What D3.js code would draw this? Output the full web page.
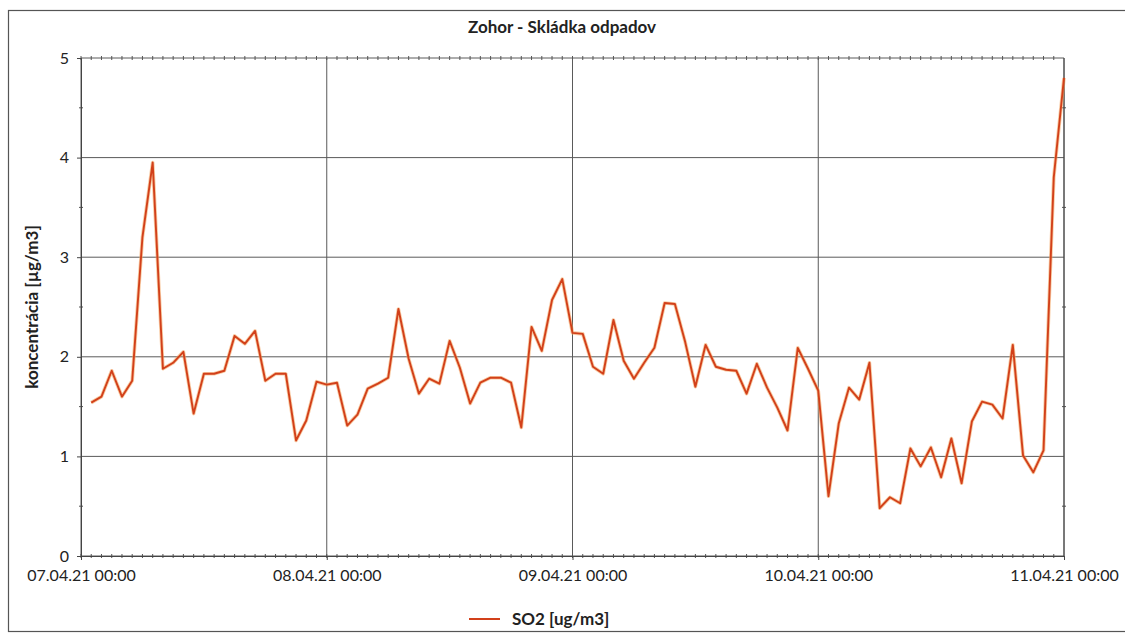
<!DOCTYPE html>
<html lang="sk">
<head>
<meta charset="utf-8">
<title>Zohor - Skládka odpadov</title>
<script src="https://d3js.org/d3.v7.min.js"></script>
<style>
  body { margin: 0; background: #fff; }
  text { font-family: Lato, "Open Sans", sans-serif; fill: #222; }
</style>
</head>
<body>
<div id="chart"></div>
<script>
// hodinové hodnoty SO2, od 07.04.21 01:00 do 11.04.21 00:00
var startTime = new Date(2021, 3, 7, 1, 0);
var so2Values = [
  1.54, 1.60, 1.86, 1.60, 1.76, 3.20, 3.95, 1.88, 1.94, 2.05, 1.43, 1.83,
  1.83, 1.86, 2.21, 2.13, 2.26, 1.76, 1.83, 1.83, 1.16, 1.36, 1.75, 1.72,
  1.74, 1.31, 1.42, 1.68, 1.73, 1.79, 2.48, 1.98, 1.63, 1.78, 1.73, 2.16,
  1.89, 1.53, 1.74, 1.79, 1.79, 1.74, 1.29, 2.30, 2.06, 2.57, 2.78, 2.24,
  2.23, 1.90, 1.83, 2.37, 1.96, 1.78, 1.94, 2.09, 2.54, 2.53, 2.15, 1.70,
  2.12, 1.90, 1.87, 1.86, 1.63, 1.93, 1.69, 1.49, 1.26, 2.09, 1.88, 1.66,
  0.60, 1.33, 1.69, 1.57, 1.94, 0.48, 0.59, 0.53, 1.08, 0.90, 1.09, 0.79,
  1.18, 0.73, 1.35, 1.55, 1.52, 1.38, 2.12, 1.01, 0.84, 1.06, 3.80, 4.80
];
var dayTicks = [
  new Date(2021, 3, 7), new Date(2021, 3, 8), new Date(2021, 3, 9),
  new Date(2021, 3, 10), new Date(2021, 3, 11)
];
var yTicks = [0, 1, 2, 3, 4, 5];
var yMinorTicks = [0.5, 1.5, 2.5, 3.5, 4.5];
var chartTitle = "Zohor - Skládka odpadov";
var yTitle = "koncentrácia [µg/m3]";
var seriesName = "SO2 [ug/m3]";

var data = so2Values.map(function(v, i) {
  return { t: d3.timeHour.offset(startTime, i), v: v };
});

var W = 1125, H = 636;
var margin = {top: 58, right: 61, bottom: 80, left: 81},
    width = W - margin.left - margin.right,
    height = H - margin.top - margin.bottom;

var svg = d3.select("#chart").append("svg")
    .attr("width", W).attr("height", H);

// rámik grafu
svg.append("rect")
    .attr("x", 8.5).attr("y", 10.5)
    .attr("width", 1130).attr("height", 621)
    .attr("fill", "none").attr("stroke", "#555").attr("stroke-width", 1.2);

var g = svg.append("g")
    .attr("transform", "translate(" + margin.left + "," + margin.top + ")");

var x = d3.scaleTime()
    .domain([dayTicks[0], dayTicks[4]])
    .range([0, width]);
var y = d3.scaleLinear()
    .domain([0, 5])
    .range([height, 0]);

// mriežka
g.selectAll(".hgrid").data(yTicks).enter().append("line")
    .attr("x1", 0).attr("x2", width)
    .attr("y1", function(d) { return y(d); }).attr("y2", function(d) { return y(d); })
    .attr("stroke", "#5a5a5a").attr("stroke-width", 1);
g.selectAll(".vgrid").data(dayTicks).enter().append("line")
    .attr("x1", function(d) { return x(d); }).attr("x2", function(d) { return x(d); })
    .attr("y1", 0).attr("y2", height)
    .attr("stroke", "#5a5a5a").attr("stroke-width", 1);

// vedľajšie značky na okrajoch
var hours = d3.timeHour.range(dayTicks[0], dayTicks[4]);
[0, height].forEach(function(yy) {
  g.selectAll(null).data(hours).enter().append("line")
      .attr("x1", function(d) { return x(d); }).attr("x2", function(d) { return x(d); })
      .attr("y1", yy - 2).attr("y2", yy + 2)
      .attr("stroke", "#555").attr("stroke-width", 1);
});
[0, width].forEach(function(xx) {
  g.selectAll(null).data(yMinorTicks).enter().append("line")
      .attr("x1", xx - 2).attr("x2", xx + 2)
      .attr("y1", function(d) { return y(d); }).attr("y2", function(d) { return y(d); })
      .attr("stroke", "#555").attr("stroke-width", 1);
});

// osi
var xAxis = g.append("g")
    .attr("transform", "translate(0," + height + ")")
    .call(d3.axisBottom(x).tickValues(dayTicks).tickSize(4)
      .tickFormat(d3.timeFormat("%d.%m.%y %H:%M")));
xAxis.select(".domain").attr("stroke", "#444");
xAxis.selectAll(".tick line").attr("stroke", "#444");
xAxis.selectAll("text")
    .attr("y", 14).attr("dy", "0.71em")
    .style("font-size", "16px").style("font-family", "Lato, sans-serif").attr("fill", "#222");

var yAxis = g.append("g")
    .call(d3.axisLeft(y).tickValues(yTicks).tickSize(4).tickFormat(d3.format("d")));
yAxis.select(".domain").attr("stroke", "#444");
yAxis.selectAll(".tick line").attr("stroke", "#444");
yAxis.selectAll("text")
    .attr("x", -12)
    .style("font-size", "16px").style("font-family", "Lato, sans-serif").attr("fill", "#222");

g.append("line")
    .attr("x1", width).attr("x2", width).attr("y1", 0).attr("y2", height)
    .attr("stroke", "#444");

// krivka
var line = d3.line()
    .x(function(d) { return x(d.t); })
    .y(function(d) { return y(d.v); });
g.append("path")
    .datum(data)
    .attr("d", line)
    .attr("fill", "none")
    .attr("stroke", "#f3a15a").attr("stroke-width", 3.6).attr("stroke-opacity", 0.55)
    .attr("stroke-linejoin", "round");
g.append("path")
    .datum(data)
    .attr("d", line)
    .attr("fill", "none")
    .attr("stroke", "#d2401a").attr("stroke-width", 1.9)
    .attr("stroke-linejoin", "round");

// nadpisy
svg.append("text")
    .attr("x", 562).attr("y", 33)
    .attr("text-anchor", "middle")
    .style("font-size", "17px").style("font-weight", "bold")
    .text(chartTitle);

svg.append("text")
    .attr("transform", "translate(38," + (margin.top + height / 2) + ") rotate(-90)")
    .attr("text-anchor", "middle")
    .style("font-size", "17px").style("font-weight", "bold")
    .text(yTitle);

// legenda
svg.append("line")
    .attr("x1", 469).attr("x2", 500).attr("y1", 619).attr("y2", 619)
    .attr("stroke", "#d2401a").attr("stroke-width", 2);
svg.append("text")
    .attr("x", 512).attr("y", 625)
    .style("font-size", "17px").style("font-weight", "bold")
    .text(seriesName);
</script>
</body>
</html>
